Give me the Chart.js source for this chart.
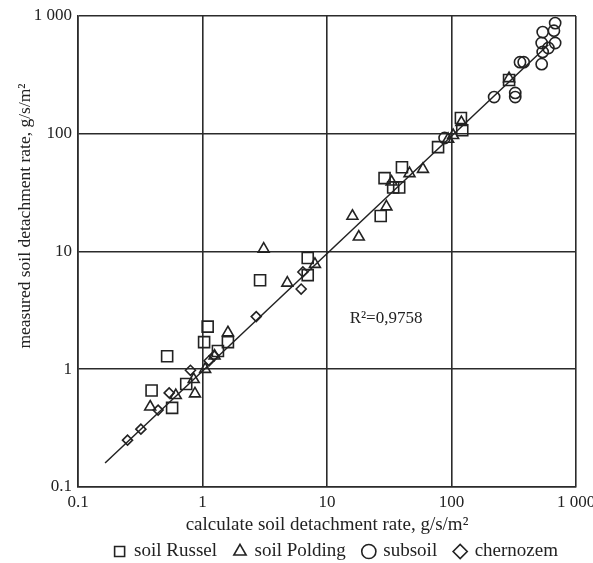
<!DOCTYPE html>
<html>
<head>
<meta charset="utf-8">
<script src="https://cdn.jsdelivr.net/npm/chart.js@4/dist/chart.umd.min.js"></script>
<style>
  html, body { margin: 0; padding: 0; background: #fff; }
  #wrap { width: 593px; height: 563px; }
</style>
</head>
<body>
<div id="wrap"><canvas id="chart" width="593" height="563"></canvas></div>
<script>
// values (calculated x, measured y), g/s/m2
const russelX = [0.52, 0.39, 0.57, 0.74, 1.03, 1.1, 1.33, 1.6, 2.9, 7.0, 7.0, 27, 29, 34, 38, 40, 78, 119, 122, 290];
const russelY = [1.29, 0.66, 0.47, 0.75, 1.7, 2.3, 1.43, 1.7, 5.7, 8.8, 6.3, 20, 42, 35, 35, 52, 77, 136, 107, 286];

const poldingX = [0.38, 0.61, 0.85, 0.87, 1.05, 1.25, 1.6, 3.1, 4.8, 8.0, 16, 18, 30, 33, 46, 59, 94, 103, 120, 290];
const poldingY = [0.48, 0.6, 0.82, 0.62, 1.0, 1.3, 2.05, 10.5, 5.4, 7.8, 20, 13.3, 24, 39, 46, 50, 90, 97, 125, 295];

const subsoilX = [680, 540, 665, 530, 680, 600, 540, 355, 380, 530, 220, 325, 325, 88];
const subsoilY = [870, 730, 750, 590, 590, 535, 495, 405, 405, 390, 205, 222, 205, 92];

const chernozemX = [0.25, 0.32, 0.44, 0.54, 0.8, 1.13, 1.24, 2.7, 6.2, 6.4];
const chernozemY = [0.25, 0.31, 0.45, 0.63, 0.98, 1.18, 1.3, 2.8, 4.8, 6.7];

const fitX = [0.165, 600];
const fitY = [0.16, 570];

const tickValues = [0.1, 1, 10, 100, 1000];
const tickLabels = ['0.1', '1', '10', '100', '1 000'];

const r2Text = 'R²=0,9758';
const r2Pos = { x: 29.8, y: 2.72 };

const xTitle = 'calculate soil detachment rate, g/s/m²';
const yTitle = 'measured soil detachment rate, g/s/m²';

const ink = '#222';
const gridInk = '#2b2b2b';
const serif = '"Liberation Serif", "Times New Roman", serif';

const pts = (xs, ys) => xs.map((x, i) => ({ x, y: ys[i] }));

function markerSet(label, xs, ys, style, radius) {
  return {
    label,
    data: pts(xs, ys),
    pointStyle: style,
    pointRadius: radius,
    pointHoverRadius: radius,
    pointBorderWidth: 1.6,
    borderColor: ink,
    backgroundColor: 'rgba(255,255,255,0)',
    showLine: false
  };
}

// R2 note and the two axis titles
const labelsPlugin = {
  id: 'labelsPlugin',
  afterDraw(chart) {
    const ctx = chart.ctx;
    const xs = chart.scales.x, ys = chart.scales.y;
    const area = chart.chartArea;
    ctx.save();
    ctx.fillStyle = ink;
    ctx.textAlign = 'center';
    ctx.textBaseline = 'middle';
    ctx.font = '17px ' + serif;
    ctx.fillText(r2Text, xs.getPixelForValue(r2Pos.x), ys.getPixelForValue(r2Pos.y));

    ctx.font = '19px ' + serif;
    ctx.fillText(xTitle, (area.left + area.right) / 2, 525);

    ctx.font = '17.5px ' + serif;
    ctx.translate(25, 216);
    ctx.rotate(-Math.PI / 2);
    ctx.fillText(yTitle, 0, 0);
    ctx.restore();
  }
};

function decadeTicks(scale) {
  scale.ticks = tickValues.map(v => ({ value: v }));
}

function tickLabel(value) {
  const i = tickValues.findIndex(v => Math.abs(v - value) / v < 1e-6);
  return i >= 0 ? tickLabels[i] : '';
}

new Chart(document.getElementById('chart'), {
  type: 'scatter',
  data: {
    datasets: [
      markerSet('soil Russel', russelX, russelY, 'rect', 7.8),
      markerSet('soil Polding', poldingX, poldingY, 'triangle', 6.3),
      markerSet('subsoil', subsoilX, subsoilY, 'circle', 5.6),
      markerSet('chernozem', chernozemX, chernozemY, 'rectRot', 5),
      {
        label: 'fit',
        type: 'line',
        data: pts(fitX, fitY),
        borderColor: ink,
        borderWidth: 1.5,
        pointRadius: 0,
        fill: false
      }
    ]
  },
  options: {
    responsive: false,
    animation: false,
    layout: { padding: { top: 16, right: 17, left: 0, bottom: -8 } },
    plugins: {
      tooltip: { enabled: false },
      legend: {
        position: 'bottom',
        align: 'end',
        labels: {
          filter: item => item.text !== 'fit',
          usePointStyle: true,
          boxWidth: 10,
          boxHeight: 10,
          padding: 18,
          color: ink,
          font: { family: serif, size: 19, lineHeight: 1.2 }
        }
      }
    },
    scales: {
      x: {
        type: 'logarithmic',
        min: 0.1,
        max: 1000,
        afterBuildTicks: decadeTicks,
        afterFit: s => { s.height = 37; s.paddingLeft = 0; s.paddingRight = 0; },
        grid: { color: gridInk, lineWidth: 1.6, drawTicks: false },
        border: { color: gridInk, width: 1.6 },
        ticks: {
          callback: tickLabel,
          color: ink,
          padding: 5,
          maxRotation: 0,
          autoSkip: false,
          font: { family: serif, size: 17 }
        }
      },
      y: {
        type: 'logarithmic',
        min: 0.1,
        max: 1000,
        afterBuildTicks: decadeTicks,
        afterFit: s => { s.width = 78; s.paddingTop = 0; s.paddingBottom = 0; },
        grid: { color: gridInk, lineWidth: 1.6, drawTicks: false },
        border: { color: gridInk, width: 1.6 },
        ticks: {
          callback: tickLabel,
          color: ink,
          padding: 6,
          autoSkip: false,
          font: { family: serif, size: 17 }
        }
      }
    }
  },
  plugins: [labelsPlugin]
});
</script>
</body>
</html>
